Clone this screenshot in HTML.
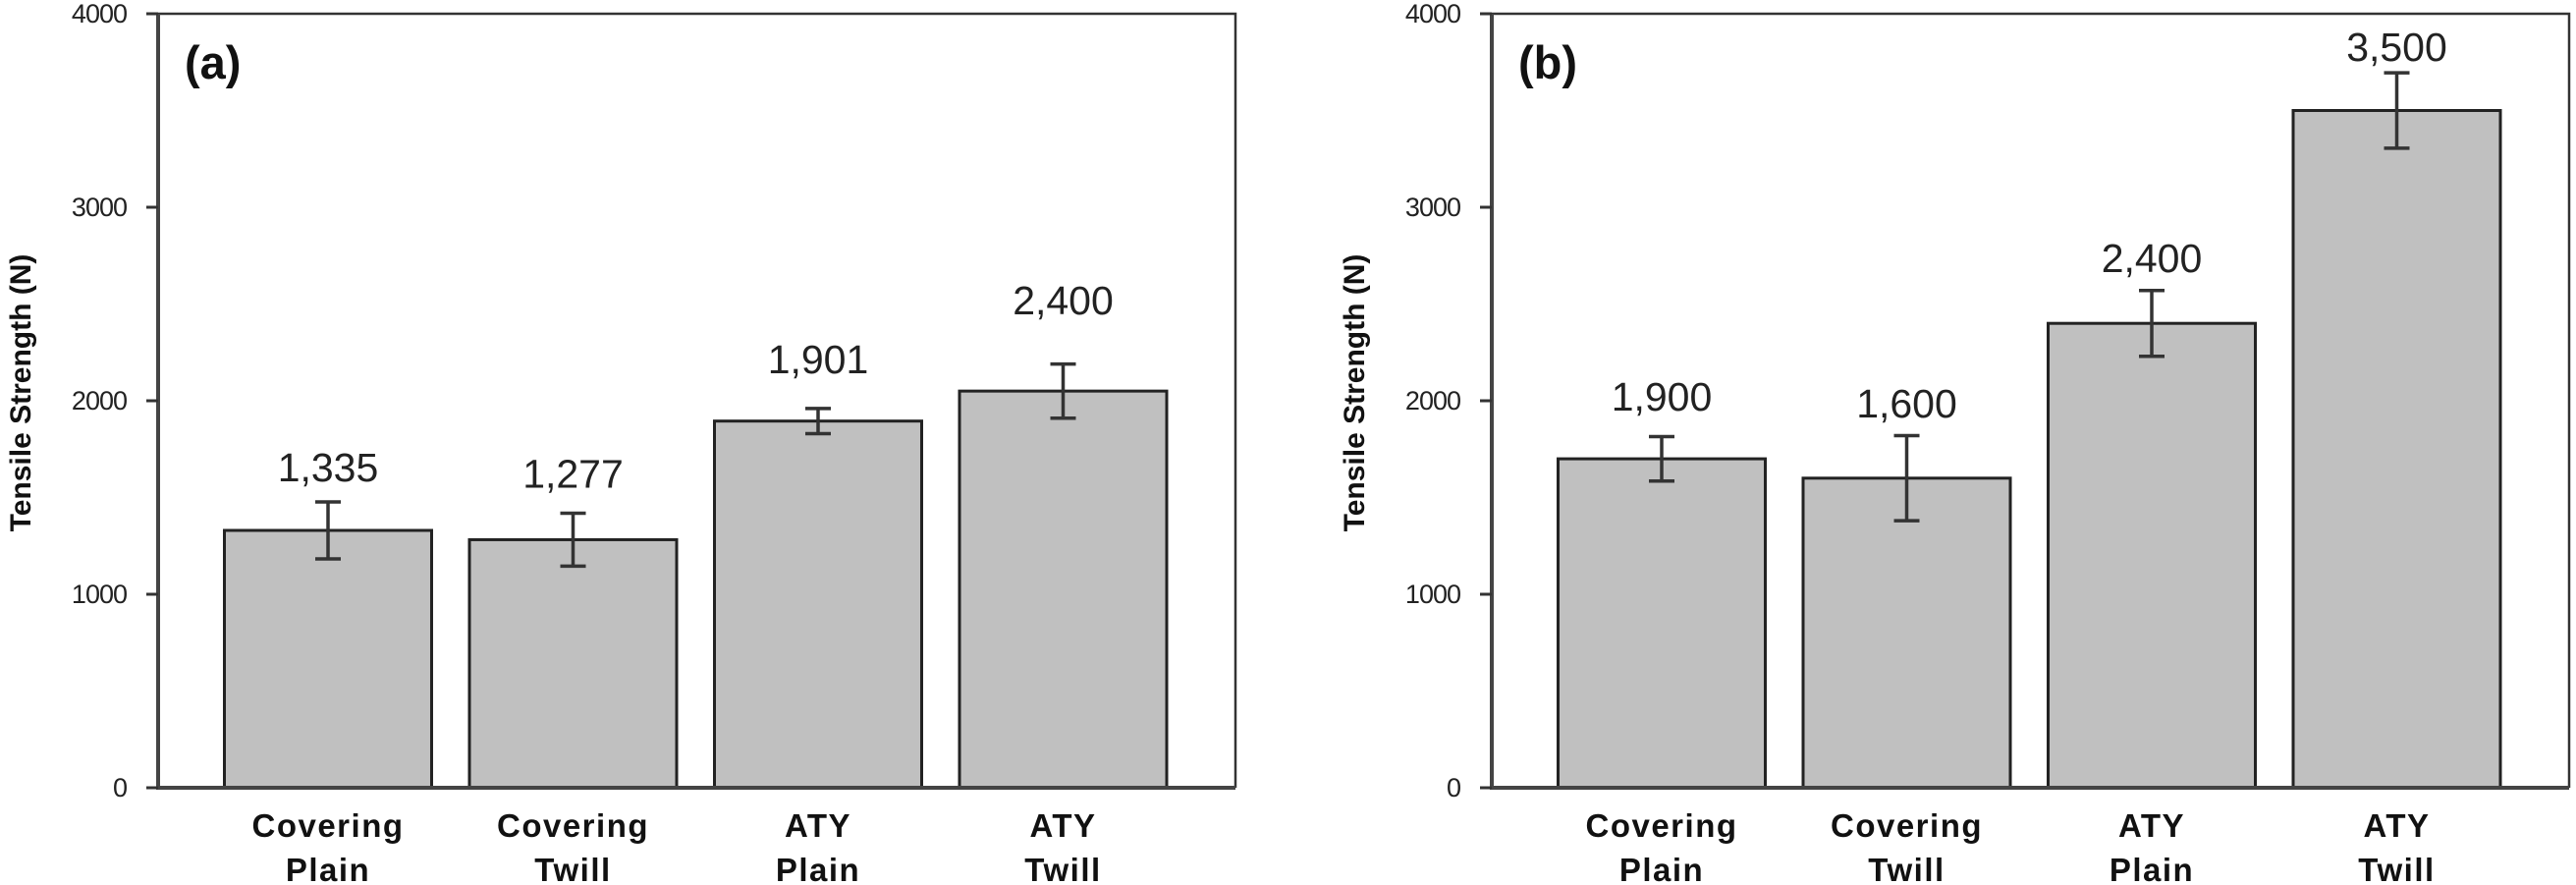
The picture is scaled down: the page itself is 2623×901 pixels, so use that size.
<!DOCTYPE html>
<html><head><meta charset="utf-8">
<style>
html,body{margin:0;padding:0;background:#fff;}
svg{display:block;}
text{font-family:"Liberation Sans","DejaVu Sans",sans-serif;}
</style></head>
<body>
<svg id="chart" width="2623" height="901" viewBox="0 0 2623 901" xmlns="http://www.w3.org/2000/svg"></svg>
<script>
const categories = [["Covering","Plain"],["Covering","Twill"],["ATY","Plain"],["ATY","Twill"]];
const yTicks = [0,1000,2000,3000,4000];
const valuesA = [1330, 1282, 1895, 2050];
const errorsA = [147, 137, 65, 140];
const labelsA = ["1,335","1,277","1,901","2,400"];
const labelLevelA = [1584, 1550, 2142, 2447];
const valuesB = [1700, 1600, 2400, 3500];
const errorsB = [115, 220, 170, 195];
const labelsB = ["1,900","1,600","2,400","3,500"];
const labelLevelB = [1950, 1914, 2665, 3756];

const NS = "http://www.w3.org/2000/svg";
const svg = document.getElementById('chart');
function mk(tag, attrs, parent){
  const e = document.createElementNS(NS, tag);
  for (const k in attrs) e.setAttribute(k, attrs[k]);
  (parent||svg).appendChild(e);
  return e;
}

function panel(offX, vals, errs, labs, levels, tag){
  const left = 161 + offX, right = 1258 + offX, top = 14, bottom = 802;
  const yMax = 4000;
  const y = v => bottom - (v / yMax) * (bottom - top);
  const pitch = 249.5, firstC = 173;
  const barW = 211;
  const xc = i => left + firstC + pitch * i;

  const g = mk('g', {});
  
  

  const fr = mk('path', {d:`M${left} ${top} H${right} V${bottom}`, fill:'none', stroke:'#333', 'stroke-width':2.5}, g);
  
  

  vals.forEach((v, i) => {
    const r = mk('rect', {x: xc(i) - barW/2, y: y(v), width: barW, height: bottom - y(v), fill:'#c0c0c0', stroke:'#222', 'stroke-width':3}, g);
    
    
  });

  vals.forEach((v, i) => {
    const x = xc(i), lo = y(v - errs[i]), hi = y(v + errs[i]);
    const eg = mk('g', {stroke:'#333', 'stroke-width':3.5, fill:'none'}, g);
    
    
    mk('line', {x1:x, x2:x, y1:lo, y2:hi}, eg);
    mk('line', {x1:x-13, x2:x+13, y1:lo, y2:lo}, eg);
    mk('line', {x1:x-13, x2:x+13, y1:hi, y2:hi}, eg);
  });

  labs.forEach((t, i) => {
    const tx = mk('text', {x: xc(i), y: y(levels[i]), 'text-anchor':'middle', 'font-size':41, fill:'#222'}, g);
    tx.textContent = t;
    
    
  });

  const ax = mk('path', {d:`M${left} ${top} V${bottom} H${right}`, fill:'none', stroke:'#444', 'stroke-width':4}, g);
  
  

  yTicks.forEach(t => {
    const tl = mk('line', {x1:left-12, x2:left, y1:y(t), y2:y(t), stroke:'#333', 'stroke-width':3}, g);
    
    
    const tt = mk('text', {x:left-32, y:y(t)+9, 'text-anchor':'end', 'font-size':27, fill:'#222', 'letter-spacing':'-1'}, g);
    tt.textContent = String(t);
    
    
  });

  categories.forEach((c, i) => {
    const xt = mk('text', {x: xc(i), y: 852, 'text-anchor':'middle', 'font-size':33, 'font-weight':'bold', fill:'#111', 'letter-spacing':'1.5'}, g);
    
    
    const s1 = mk('tspan', {x: xc(i), dy: 0}, xt); s1.textContent = c[0];
    const s2 = mk('tspan', {x: xc(i), dy: 45}, xt); s2.textContent = c[1];
  });

  const yt = mk('text', {x: 0, y: 0, transform:`translate(${31+offX},400) rotate(-90)`, 'text-anchor':'middle', 'font-size':30, 'font-weight':'bold', fill:'#111'}, g);
  yt.textContent = 'Tensile Strength (N)';
  
  

  const pl = mk('text', {x: left + 27, y: 80, 'font-size':47, 'font-weight':'bold', fill:'#111'}, g);
  pl.textContent = '(' + tag + ')';
  
  
}

panel(0, valuesA, errorsA, labelsA, labelLevelA, 'a');
panel(1358, valuesB, errorsB, labelsB, labelLevelB, 'b');
</script>
</body></html>
